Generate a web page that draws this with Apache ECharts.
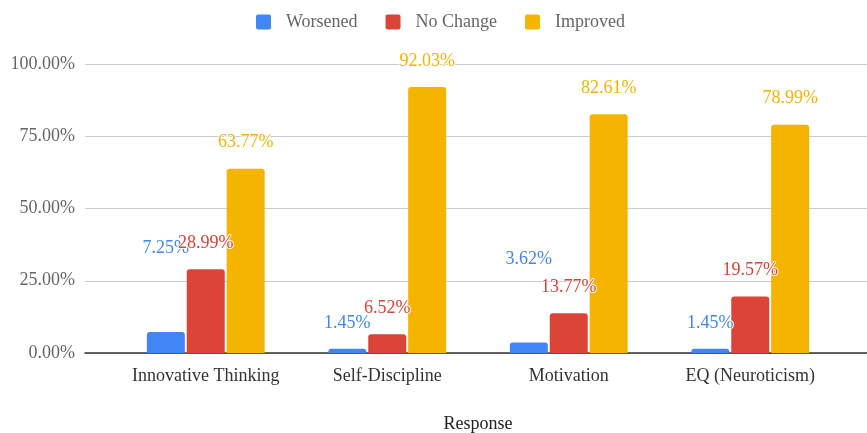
<!DOCTYPE html>
<html>
<head>
<meta charset="utf-8">
<script src="https://cdn.jsdelivr.net/npm/echarts@6/dist/echarts.min.js"></script>
<style>
  html, body { margin: 0; padding: 0; background: #fff; }
  #chart { width: 867px; height: 433px; }
</style>
</head>
<body>
<div id="chart"></div>
<script>
const categories = ['Innovative Thinking', 'Self-Discipline', 'Motivation', 'EQ (Neuroticism)'];
const worsened = [7.25, 1.45, 3.62, 1.45];
const noChange = [28.99, 6.52, 13.77, 19.57];
const improved = [63.77, 92.03, 82.61, 78.99];
const yTicks = [0, 25, 50, 75, 100];

var chartDom = document.getElementById('chart');
var myChart = echarts.init(chartDom);
var font = 'Liberation Serif';

// labels that Sheets pushed upward to avoid overlaps
const labelLift = { 'Worsened': { 0: -58, 2: -57 } };

function makeSeries(name, values, color) {
    return {
        name: name,
        type: 'bar',
        xAxisIndex: 1,
        yAxisIndex: 1,
        barWidth: 38,
        barGap: '5%',
        itemStyle: { color: color, borderRadius: [3, 3, 0, 0] },
        label: {
            show: true,
            position: 'top',
            distance: 17,
            color: color,
            fontFamily: font,
            fontSize: 18,
            textBorderColor: '#fff',
            textBorderWidth: 2,
            formatter: function (p) { return p.value.toFixed(2) + '%'; }
        },
        data: values.map(function (v, i) {
            var lift = labelLift[name] && labelLift[name][i];
            return lift ? { value: v, label: { offset: [0, lift] } } : v;
        })
    };
}

var option = {
    textStyle: { fontFamily: font },
    legend: {
        top: 8,
        left: 251,
        itemWidth: 15,
        itemHeight: 15,
        itemGap: 28,
        icon: 'path://M2,0 L13,0 Q15,0 15,2 L15,13 Q15,15 13,15 L2,15 Q0,15 0,13 L0,2 Q0,0 2,0 Z',
        textStyle: { fontFamily: font, fontSize: 18, color: '#666', padding: [0, 0, 0, 10] },
        data: ['Worsened', 'No Change', 'Improved']
    },
    grid: [
        { left: 85, right: 0, top: 64, bottom: 80, containLabel: false, outerBoundsMode: 'none' },
        { left: 115, right: 26, top: 64, bottom: 80, containLabel: false, outerBoundsMode: 'none' }
    ],
    xAxis: [
        {
            type: 'value',
            gridIndex: 0,
            min: 0, max: 1,
            axisLabel: { show: false },
            axisTick: { show: false },
            splitLine: { show: false },
            axisLine: { show: true, onZero: false, lineStyle: { color: '#333', width: 1.5 } }
        },
        {
            type: 'category',
            gridIndex: 1,
            data: categories,
            name: 'Response',
            nameLocation: 'middle',
            nameGap: 62,
            nameTextStyle: { fontFamily: font, fontSize: 18, color: '#222' },
            axisLine: { show: false },
            axisTick: { show: false },
            axisLabel: { interval: 0, fontFamily: font, fontSize: 18, color: '#333', margin: 14 }
        }
    ],
    yAxis: [
        {
            type: 'value',
            gridIndex: 0,
            min: 0, max: 100, interval: 25,
            axisLine: { show: false },
            axisTick: { show: false },
            axisLabel: {
                fontFamily: font, fontSize: 18, color: '#666', margin: 10,
                formatter: function (v) { return yTicks.indexOf(v) >= 0 ? v.toFixed(2) + '%' : ''; }
            },
            splitLine: { lineStyle: { color: '#ccc' } }
        },
        {
            type: 'value',
            gridIndex: 1,
            min: 0, max: 100, interval: 25,
            show: false
        }
    ],
    series: [
        makeSeries('Worsened', worsened, '#4285f4'),
        makeSeries('No Change', noChange, '#db4437'),
        makeSeries('Improved', improved, '#f4b400')
    ]
};

option && myChart.setOption(option);

window.addEventListener('resize', function () {
    myChart.resize();
});
</script>
</body>
</html>
